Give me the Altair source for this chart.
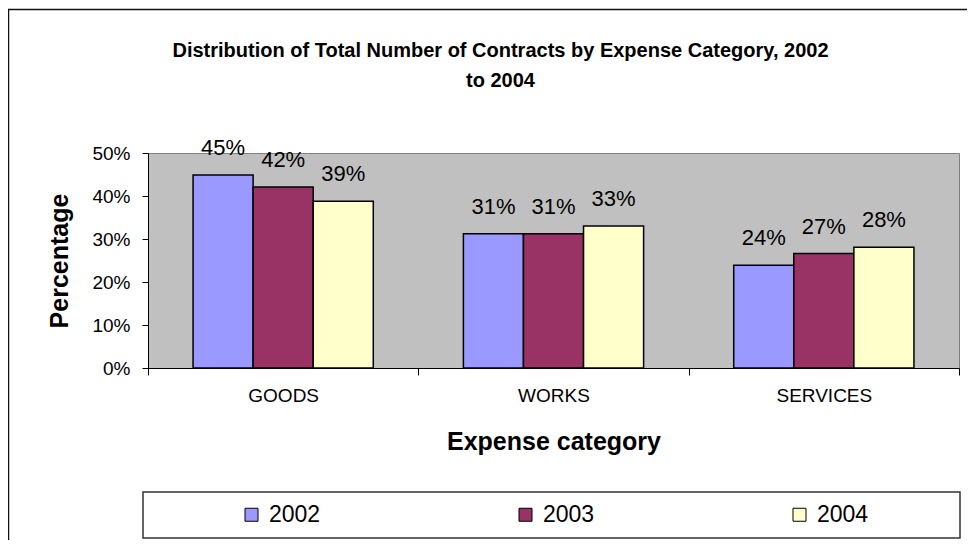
import altair as alt
import pandas as pd

categories = ["GOODS", "WORKS", "SERVICES"]
years = ["2002", "2003", "2004"]
values_2002 = [0.449, 0.312, 0.239]
values_2003 = [0.421, 0.312, 0.266]
values_2004 = [0.388, 0.330, 0.281]
colors = ["#9999FF", "#993366", "#FFFFCC"]
y_ticks = [0, 0.1, 0.2, 0.3, 0.4, 0.5]
title_lines = ["Distribution of Total Number of Contracts by Expense Category, 2002", "to 2004"]

rows = []
for yr, vals in zip(years, [values_2002, values_2003, values_2004]):
    for c, v in zip(categories, vals):
        rows.append({"category": c, "year": yr, "value": v})
df = pd.DataFrame(rows)
deco = pd.DataFrame({"k": [0]})

FONT = "Liberation Sans"

x_enc = alt.X(
    "category:N", sort=categories,
    scale=alt.Scale(paddingInner=0, paddingOuter=0),
    axis=alt.Axis(title="Expense category", labelAngle=0, tickBand="extent",
                  tickSize=7, tickColor="black", domainColor="black",
                  labelFontSize=19, labelPadding=11, labelColor="black",
                  titleFontSize=25, titleFontWeight="bold", titlePadding=24,
                  titleColor="black"),
)
xoff = alt.XOffset("year:N", sort=years, scale=alt.Scale(paddingInner=0, paddingOuter=0.75))
y_enc = alt.Y(
    "value:Q", scale=alt.Scale(domain=[0, 0.5], nice=False),
    axis=alt.Axis(values=y_ticks, format=".0%", title="Percentage", grid=False,
                  tickSize=6, tickColor="black", domainColor="black",
                  labelFontSize=19, labelPadding=12, labelColor="black",
                  titleFontSize=25, titleFontWeight="bold", titlePadding=19,
                  titleColor="black"),
)
color = alt.Color(
    "year:N", sort=years, scale=alt.Scale(domain=years, range=colors),
    legend=alt.Legend(title=None, orient="none", legendX=92, legendY=350,
                      direction="horizontal", columnPadding=193, padding=0,
                      symbolType="square", symbolSize=169,
                      symbolStrokeColor="black", symbolStrokeWidth=1,
                      labelFontSize=23, labelOffset=6, labelColor="black"),
)

bars = alt.Chart(df).mark_bar(stroke="black", strokeWidth=1.5).encode(
    x=x_enc, xOffset=xoff, y=y_enc, color=color
)
labels = alt.Chart(df).mark_text(baseline="alphabetic", dy=-20, fontSize=22, color="black").encode(
    x=alt.X("category:N", sort=categories), xOffset=alt.XOffset("year:N", sort=years),
    y="value:Q", text=alt.Text("value:Q", format=".0%")
)
outer = alt.Chart(deco).mark_rect(fillOpacity=0, stroke="#111111", strokeWidth=1.5).encode(
    x=alt.value(-139.5), x2=alt.value(1000), y=alt.value(-143.5), y2=alt.value(700)
)
legend_box = alt.Chart(deco).mark_rect(fillOpacity=0, stroke="#333333", strokeWidth=1.5).encode(
    x=alt.value(-5), x2=alt.value(812), y=alt.value(339), y2=alt.value(385)
)

chart = alt.layer(outer, legend_box, bars, labels).properties(
    width=811, height=215,
    padding={"left": 140, "top": 145, "right": 8, "bottom": 172},
    autosize=alt.AutoSizeParams(type="none"),
    title=alt.TitleParams(text=title_lines, fontSize=20, fontWeight="bold", anchor="middle",
                          frame="group", dx=-53, dy=82, offset=0, lineHeight=30, color="black"),
).configure(
    font=FONT, background="white"
).configure_view(
    fill="#C0C0C0", stroke="#808080", strokeWidth=1
)

chart.save("out.html", embed_options={"renderer": "svg", "actions": False})
